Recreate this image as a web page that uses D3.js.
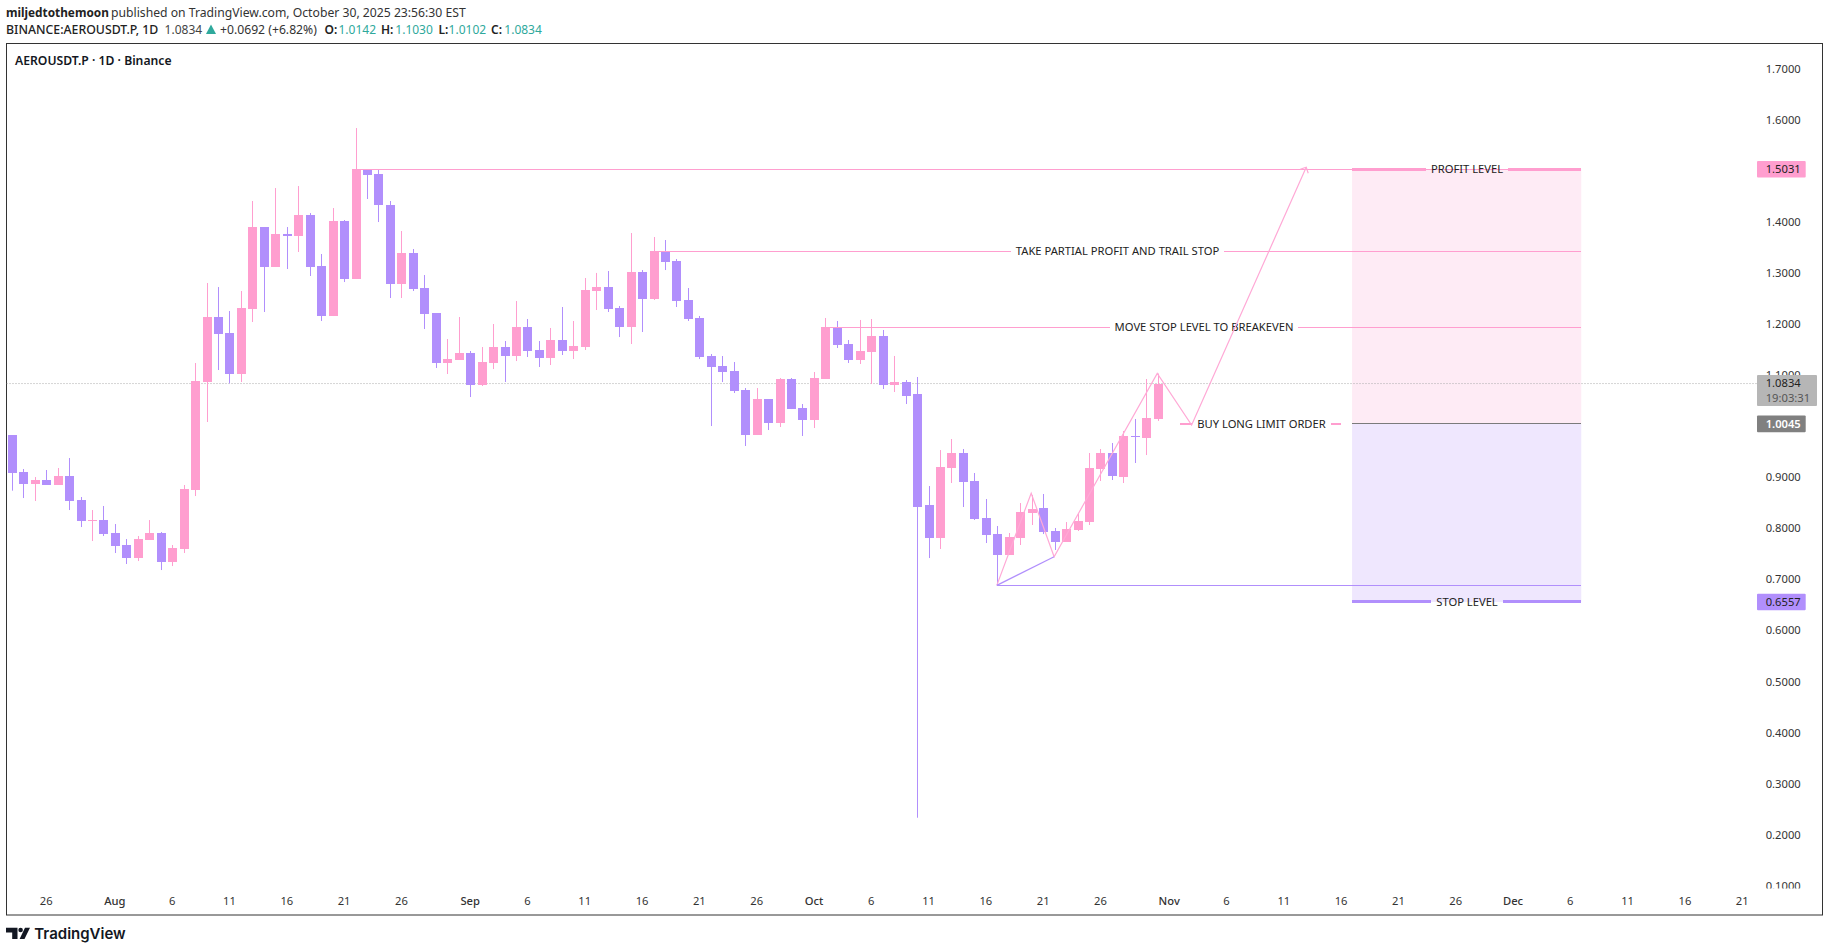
<!DOCTYPE html>
<html>
<head>
<meta charset="utf-8">
<script src="https://cdn.jsdelivr.net/npm/d3@7"></script>
<style>
  body { margin: 0; background: #fff; }
  text { font-family: "Noto Sans", sans-serif; }
</style>
</head>
<body>
<svg id="chart" width="1829" height="952"></svg>
<script>
// daily candles, first one is 23 Jul 2025
var firstDay = new Date(Date.UTC(2025, 6, 23));
var opens = [.9826,.9101,.8866,.8945,.8847,.9023,.8553,.8142,.8161,.7907,.7672,.7417,.7770,.7907,.7339,.7594,.8749,1.0864,1.2137,1.1824,1.1021,1.2293,1.3899,1.3116,1.3762,1.3723,1.4134,1.3135,1.2156,1.4017,1.2881,1.5031,1.4937,1.4330,1.2783,1.3390,1.2705,1.2215,1.1236,1.1295,1.1432,1.0805,1.1236,1.1549,1.1373,1.1941,1.1491,1.1334,1.1686,1.1471,1.1549,1.2646,1.2724,1.2313,1.1941,1.3018,1.2489,1.3429,1.3234,1.2470,1.2117,1.1373,1.1177,1.1079,1.0707,.9826,1.0531,1.0061,1.0923,1.0355,1.0120,1.0923,1.1941,1.1609,1.1295,1.1452,1.1765,1.0806,1.0864,1.0629,.8455,.7809,.9180,.9474,.8925,.8201,.7887,.7476,.7809,.8299,.8396,.7946,.7731,.7966,.8122,.9160,.9474,.9004,.9807,.9767,1.0142];
var closes = [.9088,.8866,.8945,.8847,.9023,.8534,.8142,.8161,.7887,.7652,.7417,.7789,.7907,.7339,.7613,.8769,1.0884,1.2137,1.1804,1.1021,1.2313,1.3899,1.3116,1.3762,1.3723,1.4134,1.3116,1.2156,1.4017,1.2881,1.5031,1.4918,1.4330,1.2783,1.3390,1.2685,1.2196,1.1236,1.1314,1.1432,1.0805,1.1256,1.1549,1.1373,1.1941,1.1471,1.1334,1.1686,1.1471,1.1569,1.2666,1.2724,1.2294,1.1941,1.3018,1.2489,1.3429,1.3214,1.2450,1.2098,1.1354,1.1158,1.1060,1.0688,.9826,1.0531,1.0061,1.0923,1.0335,1.0120,1.0943,1.1941,1.1589,1.1295,1.1471,1.1765,1.0806,1.0864,1.0590,.8423,.7809,.9199,.9474,.8906,.8181,.7868,.7476,.7828,.8318,.8377,.7926,.7731,.7985,.8142,.9180,.9474,.9023,.9807,.9787,1.0159,1.0834];
var highs = [.9826,.9160,.9003,.9141,.9180,.9376,.8612,.8357,.8436,.8083,.7789,.7848,.8161,.7926,.7672,.8847,1.1236,1.2803,1.2724,1.2254,1.2646,1.4409,1.3899,1.4663,1.3899,1.4702,1.4173,1.3371,1.4271,1.4036,1.5838,1.5031,1.5016,1.4409,1.3821,1.3469,1.2959,1.2215,1.1706,1.2137,1.1471,1.1549,1.2000,1.1667,1.2450,1.2098,1.1667,1.1922,1.2333,1.2059,1.2901,1.3000,1.3038,1.2352,1.3782,1.3057,1.3704,1.3645,1.3273,1.2705,1.2157,1.1413,1.1373,1.1256,1.0746,1.0746,1.0531,1.0942,1.0942,1.0433,1.1060,1.2118,1.2059,1.1687,1.2079,1.2098,1.1883,1.1374,1.0903,1.0962,.8827,.9532,.9748,.9552,.9082,.8573,.8044,.7907,.8494,.8651,.8671,.8005,.8122,.8279,.9474,.9552,.9670,.9904,1.0140,1.0923,1.1030];
var lows = [.8736,.8592,.8534,.8847,.8847,.8357,.8024,.7750,.7848,.7515,.7300,.7358,.7770,.7182,.7260,.7515,.8631,1.0081,1.1099,1.0838,1.0864,1.2039,1.2235,1.3116,1.3077,1.3410,1.2940,1.2059,1.2156,1.2822,1.2881,1.4448,1.3997,1.2509,1.2509,1.2646,1.1902,1.1138,1.1021,1.1295,1.0570,1.0786,1.1118,1.0864,1.1275,1.1354,1.1158,1.1197,1.1393,1.1314,1.1491,1.2274,1.2235,1.1745,1.1608,1.1843,1.2470,1.3057,1.2333,1.2059,1.1314,1.0002,1.0864,1.0649,.9611,.9826,.9924,.9983,1.0335,.9807,.9963,1.0923,1.1530,1.1237,1.1217,1.0825,1.0727,1.0668,1.0433,.2331,.7417,.7594,.8886,.8416,.8162,.7711,.6882,.7476,.7672,.8064,.7887,.7574,.7731,.7946,.8064,.8925,.8945,.8886,.9278,.9434,1.0102];

// axis
var priceTicks = [1.7,1.6,1.5,1.4,1.3,1.2,1.1,1.0,0.9,0.8,0.7,0.6,0.5,0.4,0.3,0.2,0.1];
var timeTickDates = ["2025-07-26","2025-08-01","2025-08-06","2025-08-11","2025-08-16","2025-08-21","2025-08-26","2025-09-01","2025-09-06","2025-09-11","2025-09-16","2025-09-21","2025-09-26","2025-10-01","2025-10-06","2025-10-11","2025-10-16","2025-10-21","2025-10-26","2025-11-01","2025-11-06","2025-11-11","2025-11-16","2025-11-21","2025-11-26","2025-12-01","2025-12-06","2025-12-11","2025-12-16","2025-12-21"];
var timeTickLabels = ["26","Aug","6","11","16","21","26","Sep","6","11","16","21","26","Oct","6","11","16","21","26","Nov","6","11","16","21","26","Dec","6","11","16","21"];

// drawings (prices and day numbers counted from firstDay)
var lastPrice = 1.0834;
var profitPrice = 1.5031, entryPrice = 1.0045, stopPrice = 0.6557;
var partialPrice = 1.3429, breakevenPrice = 1.1936, supportPrice = 0.6882;
var boxStart = 117, boxEnd = 137;
var zigzagDays = [86, 89, 91, 100, 103, 113];
var zigzagPrices = [.6882, .8687, .7443, 1.1034, 1.0022, 1.5069];

var PINK = "#ff9ecf", PURPLE = "#b18ffc", TEAL = "#2fa99c";

var svg = d3.select("#chart");
var left = 6.5, right = 1822.5, top_ = 43.5, bottom = 915, scaleLeft = 1757;

var parseDay = d3.utcParse("%Y-%m-%d");
var x = d3.scaleUtc()
    .domain([parseDay("2025-08-06"), parseDay("2025-12-21")])
    .range([171.7, 1741.7]);
var y = d3.scaleLinear().domain([1.7, 0.1]).range([68.7, 885.7]);

function xDay(n) { return x(d3.utcDay.offset(firstDay, n)); }

svg.append("defs").append("clipPath").attr("id", "plotClip").append("rect")
    .attr("x", left).attr("y", top_).attr("width", scaleLeft - left).attr("height", bottom - top_ - 26);
svg.append("defs").append("clipPath").attr("id", "scaleClip").append("rect")
    .attr("x", scaleLeft).attr("y", top_).attr("width", right - scaleLeft).attr("height", 888.5 - top_);

// header lines
function headerText(px, py, str, color, weight, size) {
    svg.append("text").attr("x", px).attr("y", py).attr("dy", "0.35em")
        .attr("font-size", size || 12).attr("fill", color).attr("font-weight", weight || 400).text(str);
}
headerText(6, 12.7, "miljedtothemoon", "#222", 700, 11.8);
headerText(111, 12.7, "published on TradingView.com, October 30, 2025 23:56:30 EST", "#333", 400, 12.2);
headerText(6, 29.3, "BINANCE:AEROUSDT.P, 1D", "#222", 500, 12.3);
headerText(164.6, 29.3, "1.0834", "#444");
svg.append("path").attr("d", "M206,34 L211,24.5 L216,34 Z").attr("fill", TEAL);
headerText(220, 29.3, "+0.0692 (+6.82%)", "#333", 400, 12.2);
var ohlcX = [324.5, 381, 438.5, 491], ohlcNames = ["O:", "H:", "L:", "C:"];
var ohlcValueX = [338.5, 395.3, 448.6, 504.3], ohlcValues = ["1.0142", "1.1030", "1.0102", "1.0834"];
ohlcNames.forEach(function (name, i) {
    headerText(ohlcX[i], 29.3, name, "#222", 600);
    headerText(ohlcValueX[i], 29.3, ohlcValues[i], TEAL);
});

// frame
svg.append("rect").attr("x", left).attr("y", top_).attr("width", right - left).attr("height", bottom - top_)
    .attr("fill", "#fff").attr("stroke", "#333").attr("stroke-width", 1);

svg.append("text").attr("x", 15).attr("y", 60.7).attr("dy", "0.35em").attr("font-size", 12.2)
    .attr("font-weight", 600).attr("fill", "#131722").text("AEROUSDT.P · 1D · Binance");

var plot = svg.append("g").attr("clip-path", "url(#plotClip)");

// long position boxes
plot.append("rect").attr("x", xDay(boxStart)).attr("width", xDay(boxEnd) - xDay(boxStart))
    .attr("y", y(profitPrice)).attr("height", y(entryPrice) - y(profitPrice)).attr("fill", "#feebf5");
plot.append("rect").attr("x", xDay(boxStart)).attr("width", xDay(boxEnd) - xDay(boxStart))
    .attr("y", y(entryPrice)).attr("height", y(stopPrice) - y(entryPrice)).attr("fill", "#efe7fe");

// last price line
plot.append("line").attr("x1", left).attr("x2", scaleLeft).attr("y1", y(lastPrice)).attr("y2", y(lastPrice))
    .attr("stroke", "#aaa").attr("stroke-dasharray", "1 2");

// candles
var candles = d3.range(opens.length);
plot.selectAll("line.wick").data(candles).join("line").attr("class", "wick")
    .attr("x1", function (i) { return Math.floor(xDay(i)) + 1.5; })
    .attr("x2", function (i) { return Math.floor(xDay(i)) + 1.5; })
    .attr("y1", function (i) { return y(highs[i]); })
    .attr("y2", function (i) { return y(lows[i]); })
    .attr("stroke", function (i) { return closes[i] >= opens[i] ? PINK : PURPLE; });
plot.selectAll("rect.body").data(candles).join("rect").attr("class", "body")
    .attr("x", function (i) { return Math.floor(xDay(i)) - 3; })
    .attr("width", 9)
    .attr("y", function (i) { return y(Math.max(opens[i], closes[i])); })
    .attr("height", function (i) { return Math.max(1, Math.abs(y(opens[i]) - y(closes[i]))); })
    .attr("fill", function (i) { return closes[i] >= opens[i] ? PINK : PURPLE; })
    .attr("shape-rendering", "crispEdges");

// horizontal drawings
function hLine(d1, d2, price, color, width) {
    plot.append("line").attr("x1", xDay(d1)).attr("x2", xDay(d2)).attr("y1", y(price)).attr("y2", y(price))
        .attr("stroke", color).attr("stroke-width", width || 1).attr("shape-rendering", "crispEdges");
}
// a line broken by a centred label
function labelledLine(d1, d2, price, label, centerPx, color, width) {
    var t = plot.append("text").attr("x", centerPx).attr("y", y(price)).attr("dy", "0.35em")
        .attr("text-anchor", "middle").attr("font-size", 11.2).attr("fill", "#222").text(label);
    var box = t.node().getBBox();
    plot.append("line").attr("x1", xDay(d1)).attr("x2", box.x - 5).attr("y1", y(price)).attr("y2", y(price))
        .attr("stroke", color).attr("stroke-width", width).attr("shape-rendering", "crispEdges");
    plot.append("line").attr("x1", box.x + box.width + 5).attr("x2", xDay(d2)).attr("y1", y(price)).attr("y2", y(price))
        .attr("stroke", color).attr("stroke-width", width).attr("shape-rendering", "crispEdges");
}
hLine(30, boxEnd, profitPrice, PINK, 1);
labelledLine(boxStart, boxEnd, profitPrice, "PROFIT LEVEL", 1467, PINK, 3);
labelledLine(56, boxEnd, partialPrice, "TAKE PARTIAL PROFIT AND TRAIL STOP", 1117.5, PINK, 1);
labelledLine(71, boxEnd, breakevenPrice, "MOVE STOP LEVEL TO BREAKEVEN", 1204, PINK, 1);
labelledLine(102, 116.4, entryPrice, "BUY LONG LIMIT ORDER", 1261.5, PINK, 2);
hLine(boxStart, boxEnd, entryPrice, "#7b7b7b", 1);
hLine(86, boxEnd, supportPrice, PURPLE, 1);
labelledLine(boxStart, boxEnd, stopPrice, "STOP LEVEL", 1467, PURPLE, 3);

// trade path
var pathLine = d3.line()
    .x(function (d, i) { return xDay(zigzagDays[i]); })
    .y(function (d) { return y(d); });
plot.append("path").attr("d", pathLine(zigzagPrices)).attr("fill", "none").attr("stroke", "#ffa9d6").attr("stroke-width", 1.2);
var tipX = xDay(zigzagDays[5]), tipY = y(zigzagPrices[5]);
plot.append("path").attr("d", "M" + (tipX - 6) + "," + (tipY + 2) + "L" + tipX + "," + tipY + "L" + (tipX + 2) + "," + (tipY + 6))
    .attr("fill", "none").attr("stroke", "#ffa9d6").attr("stroke-width", 1.2);
plot.append("line").attr("x1", xDay(86)).attr("x2", xDay(91)).attr("y1", y(.6882)).attr("y2", y(.7443))
    .attr("stroke", PURPLE).attr("stroke-width", 1.2);

// price scale, clip sits on an outer group so the axis translate does not shift it
var scaleG = svg.append("g").attr("clip-path", "url(#scaleClip)").append("g")
    .attr("transform", "translate(" + scaleLeft + ",0)")
    .call(d3.axisRight(y).tickValues(priceTicks).tickSize(0).tickPadding(8.7).tickFormat(d3.format(".4f")));
scaleG.select(".domain").remove();
scaleG.selectAll("text").attr("font-size", 11.2).attr("fill", "#333").attr("font-family", "\"Noto Sans\", sans-serif");

// time scale
var timeG = svg.append("g").attr("transform", "translate(0,901)")
    .call(d3.axisBottom(x).tickValues(timeTickDates.map(parseDay)).tickSize(0).tickPadding(0)
        .tickFormat(function (d, i) { return timeTickLabels[i]; }));
timeG.select(".domain").remove();
timeG.selectAll("text").attr("font-size", 11.2).attr("dy", "0.35em").attr("y", 0).attr("fill", "#333")
    .attr("font-family", "\"Noto Sans\", sans-serif")
    .attr("font-weight", function (d, i) { return isNaN(+timeTickLabels[i]) ? 500 : 400; });

// price labels
function priceTag(price, fill, textColor, weight) {
    svg.append("rect").attr("x", scaleLeft).attr("y", y(price) - 8.3).attr("width", 48.7).attr("height", 16.6)
        .attr("rx", 1).attr("fill", fill);
    svg.append("text").attr("x", 1765.7).attr("y", y(price)).attr("dy", "0.35em").attr("font-size", 11.2)
        .attr("font-weight", weight || 400).attr("fill", textColor).text(d3.format(".4f")(price));
}
priceTag(profitPrice, PINK, "#222");
priceTag(entryPrice, "#808080", "#fff", 600);
priceTag(stopPrice, PURPLE, "#222");
svg.append("rect").attr("x", scaleLeft).attr("y", y(lastPrice) - 8.5).attr("width", 60).attr("height", 31)
    .attr("rx", 1).attr("fill", "#b6b6b6");
svg.append("text").attr("x", 1765.7).attr("y", y(lastPrice)).attr("dy", "0.35em").attr("font-size", 11.2)
    .attr("fill", "#222").text("1.0834");
svg.append("text").attr("x", 1765.7).attr("y", y(lastPrice) + 14.2).attr("dy", "0.35em").attr("font-size", 11.2)
    .attr("fill", "#555").text("19:03:31");

// TradingView mark
svg.append("path").attr("fill", "#131722")
    .attr("d", "M6,927.7H17.5V939H12.2V932.6H6Z M25,927.7H30L24.5,939H19.6Z");
svg.append("circle").attr("cx", 20.6).attr("cy", 930).attr("r", 2.3).attr("fill", "#131722");
svg.append("text").attr("x", 34.3).attr("y", 934).attr("dy", "0.35em")
    .attr("font-size", 15).attr("font-weight", 600).attr("fill", "#131722").style("font-family", "Inter, sans-serif")
    .text("TradingView");
</script>
</body>
</html>
